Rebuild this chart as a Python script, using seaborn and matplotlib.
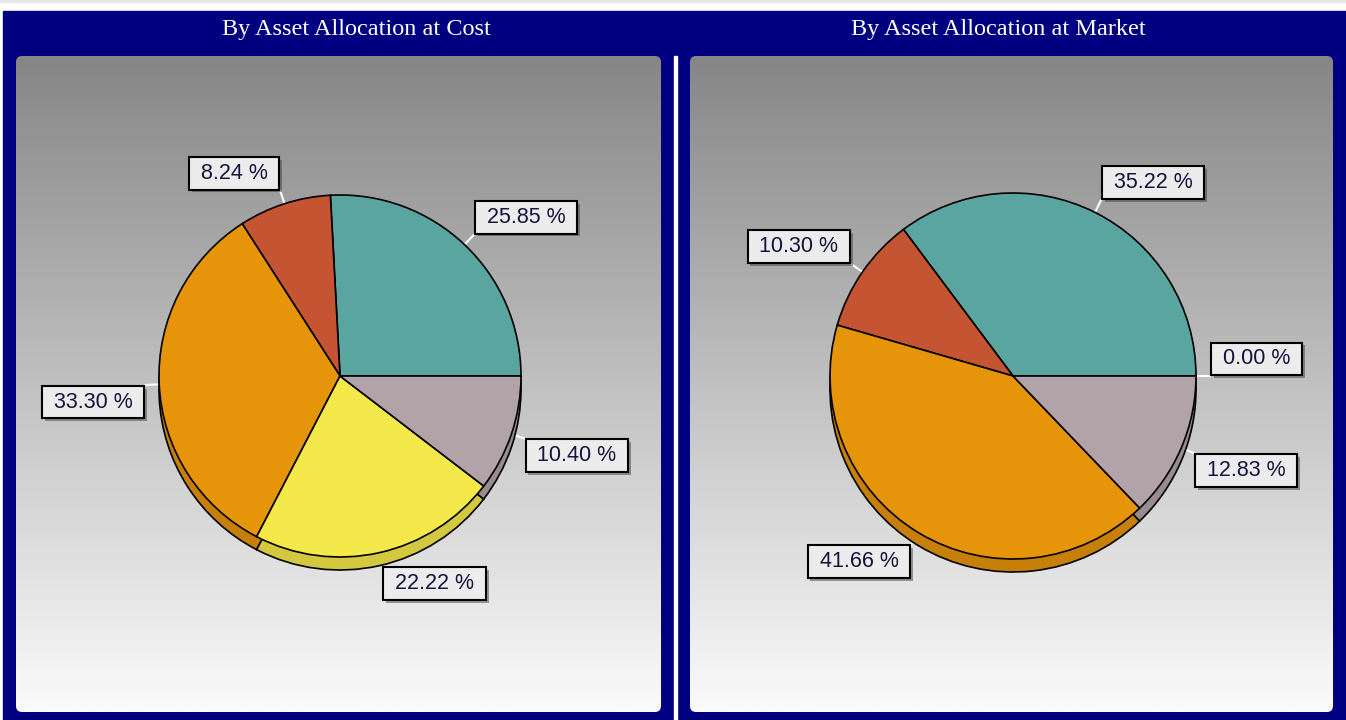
import numpy as np
import matplotlib
matplotlib.use("Agg")
import matplotlib.pyplot as plt
import matplotlib.patheffects as pe
from matplotlib.patches import Rectangle, FancyBboxPatch
from matplotlib.colors import LinearSegmentedColormap, to_rgb
import seaborn as sns

# data
titles = ["By Asset Allocation at Cost", "By Asset Allocation at Market"]
cost_values = [25.85, 8.24, 33.30, 22.22, 10.40]
cost_colors = ["#5ba5a1", "#c45432", "#e6940a", "#f5e84a", "#b1a3a8"]
market_values = [0.00, 35.22, 10.30, 41.66, 12.83]
market_colors = ["#f5e84a", "#5ba5a1", "#c45432", "#e6940a", "#b1a3a8"]

sns.set_style("white")
plt.rcParams["font.family"] = ["Liberation Sans", "DejaVu Sans"]

W, H = 1346, 720
NAVY = "#000080"
fig = plt.figure(figsize=(W / 100, H / 100), dpi=100)
fig.patch.set_facecolor("white")
fig.add_artist(Rectangle((0, 1 - 2 / H), 1, 2 / H, transform=fig.transFigure,
                         color="#e8e8e8", zorder=-2))
fig.add_artist(Rectangle((3 / W, 0), 1 - 3 / W, (H - 11) / H, transform=fig.transFigure,
                         color=NAVY, zorder=-2))
fig.add_artist(Rectangle((674 / W, 0), 3 / W, (H - 56) / H, transform=fig.transFigure,
                         color="white", zorder=-1))

bg_cmap = LinearSegmentedColormap.from_list("bg", ["#fbfbfb", "#868686"])

panels = [(16, 661, 324, 181, 356), (690, 1333, 323, 183, 998)]
datasets = [(cost_values, cost_colors), (market_values, market_colors)]
top, bottom = 56, 712
depth = 13
L = 14

for (x0, x1, cx, r, tx), (vals, cols), title in zip(panels, datasets, titles):
    pw, ph = x1 - x0, bottom - top
    ax = fig.add_axes([x0 / W, (H - bottom) / H, pw / W, ph / H])
    cy = 336

    grad = np.linspace(0, 1, 256).reshape(-1, 1)
    im = ax.imshow(grad, cmap=bg_cmap, extent=(0, pw, 0, ph), aspect="auto",
                   origin="lower", zorder=0)
    clip = FancyBboxPatch((0, 0), pw, ph, boxstyle="round,pad=0,rounding_size=6",
                          transform=ax.transData, facecolor="none", edgecolor="none")
    ax.add_patch(clip)
    im.set_clip_path(clip)

    pal = sns.color_palette(cols)
    side = [tuple(c * 0.86 for c in to_rgb(col)) for col in pal]

    sw, _ = ax.pie(vals, colors=side, startangle=0, counterclock=True, radius=r,
                   center=(cx, cy - depth), frame=True, normalize=True,
                   wedgeprops=dict(edgecolor="black", linewidth=1.2))
    tw, _ = ax.pie(vals, colors=pal, startangle=0, counterclock=True, radius=r,
                   center=(cx, cy), frame=True, normalize=True,
                   wedgeprops=dict(edgecolor="black", linewidth=1.2))
    for w in sw:
        w.set_zorder(2)
    for w in tw:
        w.set_zorder(3)

    for w, v in zip(tw, vals):
        mid = np.deg2rad((w.theta1 + w.theta2) / 2)
        ux, uy = np.cos(mid), np.sin(mid)
        px, py = cx + r * ux, cy + r * uy
        qx, qy = cx + (r + L) * ux, cy + (r + L) * uy
        ax.plot([px, qx], [py, qy], color="white", lw=1.5, zorder=1.5)
        sx = 1 if ux >= -1e-9 else -1
        sy = 1 if uy >= -1e-9 else -1
        off = 4.8
        t = ax.annotate(f" {v:.2f} % ", xy=(qx, qy), xytext=(sx * off, sy * off),
                        textcoords="offset points",
                        ha="left" if sx > 0 else "right",
                        va="bottom" if sy > 0 else "top",
                        fontsize=15.5, color="#14143c", zorder=6,
                        bbox=dict(boxstyle="square,pad=0.27", facecolor="#ececec",
                                  edgecolor="black", linewidth=1.5))
        t.get_bbox_patch().set_path_effects(
            [pe.SimplePatchShadow(offset=(2, -2), shadow_rgbFace="0.25", alpha=0.5),
             pe.Normal()])

    ax.set_aspect("auto")
    ax.set_xlim(0, pw)
    ax.set_ylim(0, ph)
    ax.axis("off")

    fig.text(tx / W, 1 - 29 / H, title, ha="center", va="center", color="white",
             family=["Liberation Serif", "DejaVu Serif"], fontsize=17.5)

fig.savefig("out.png", dpi=100)
